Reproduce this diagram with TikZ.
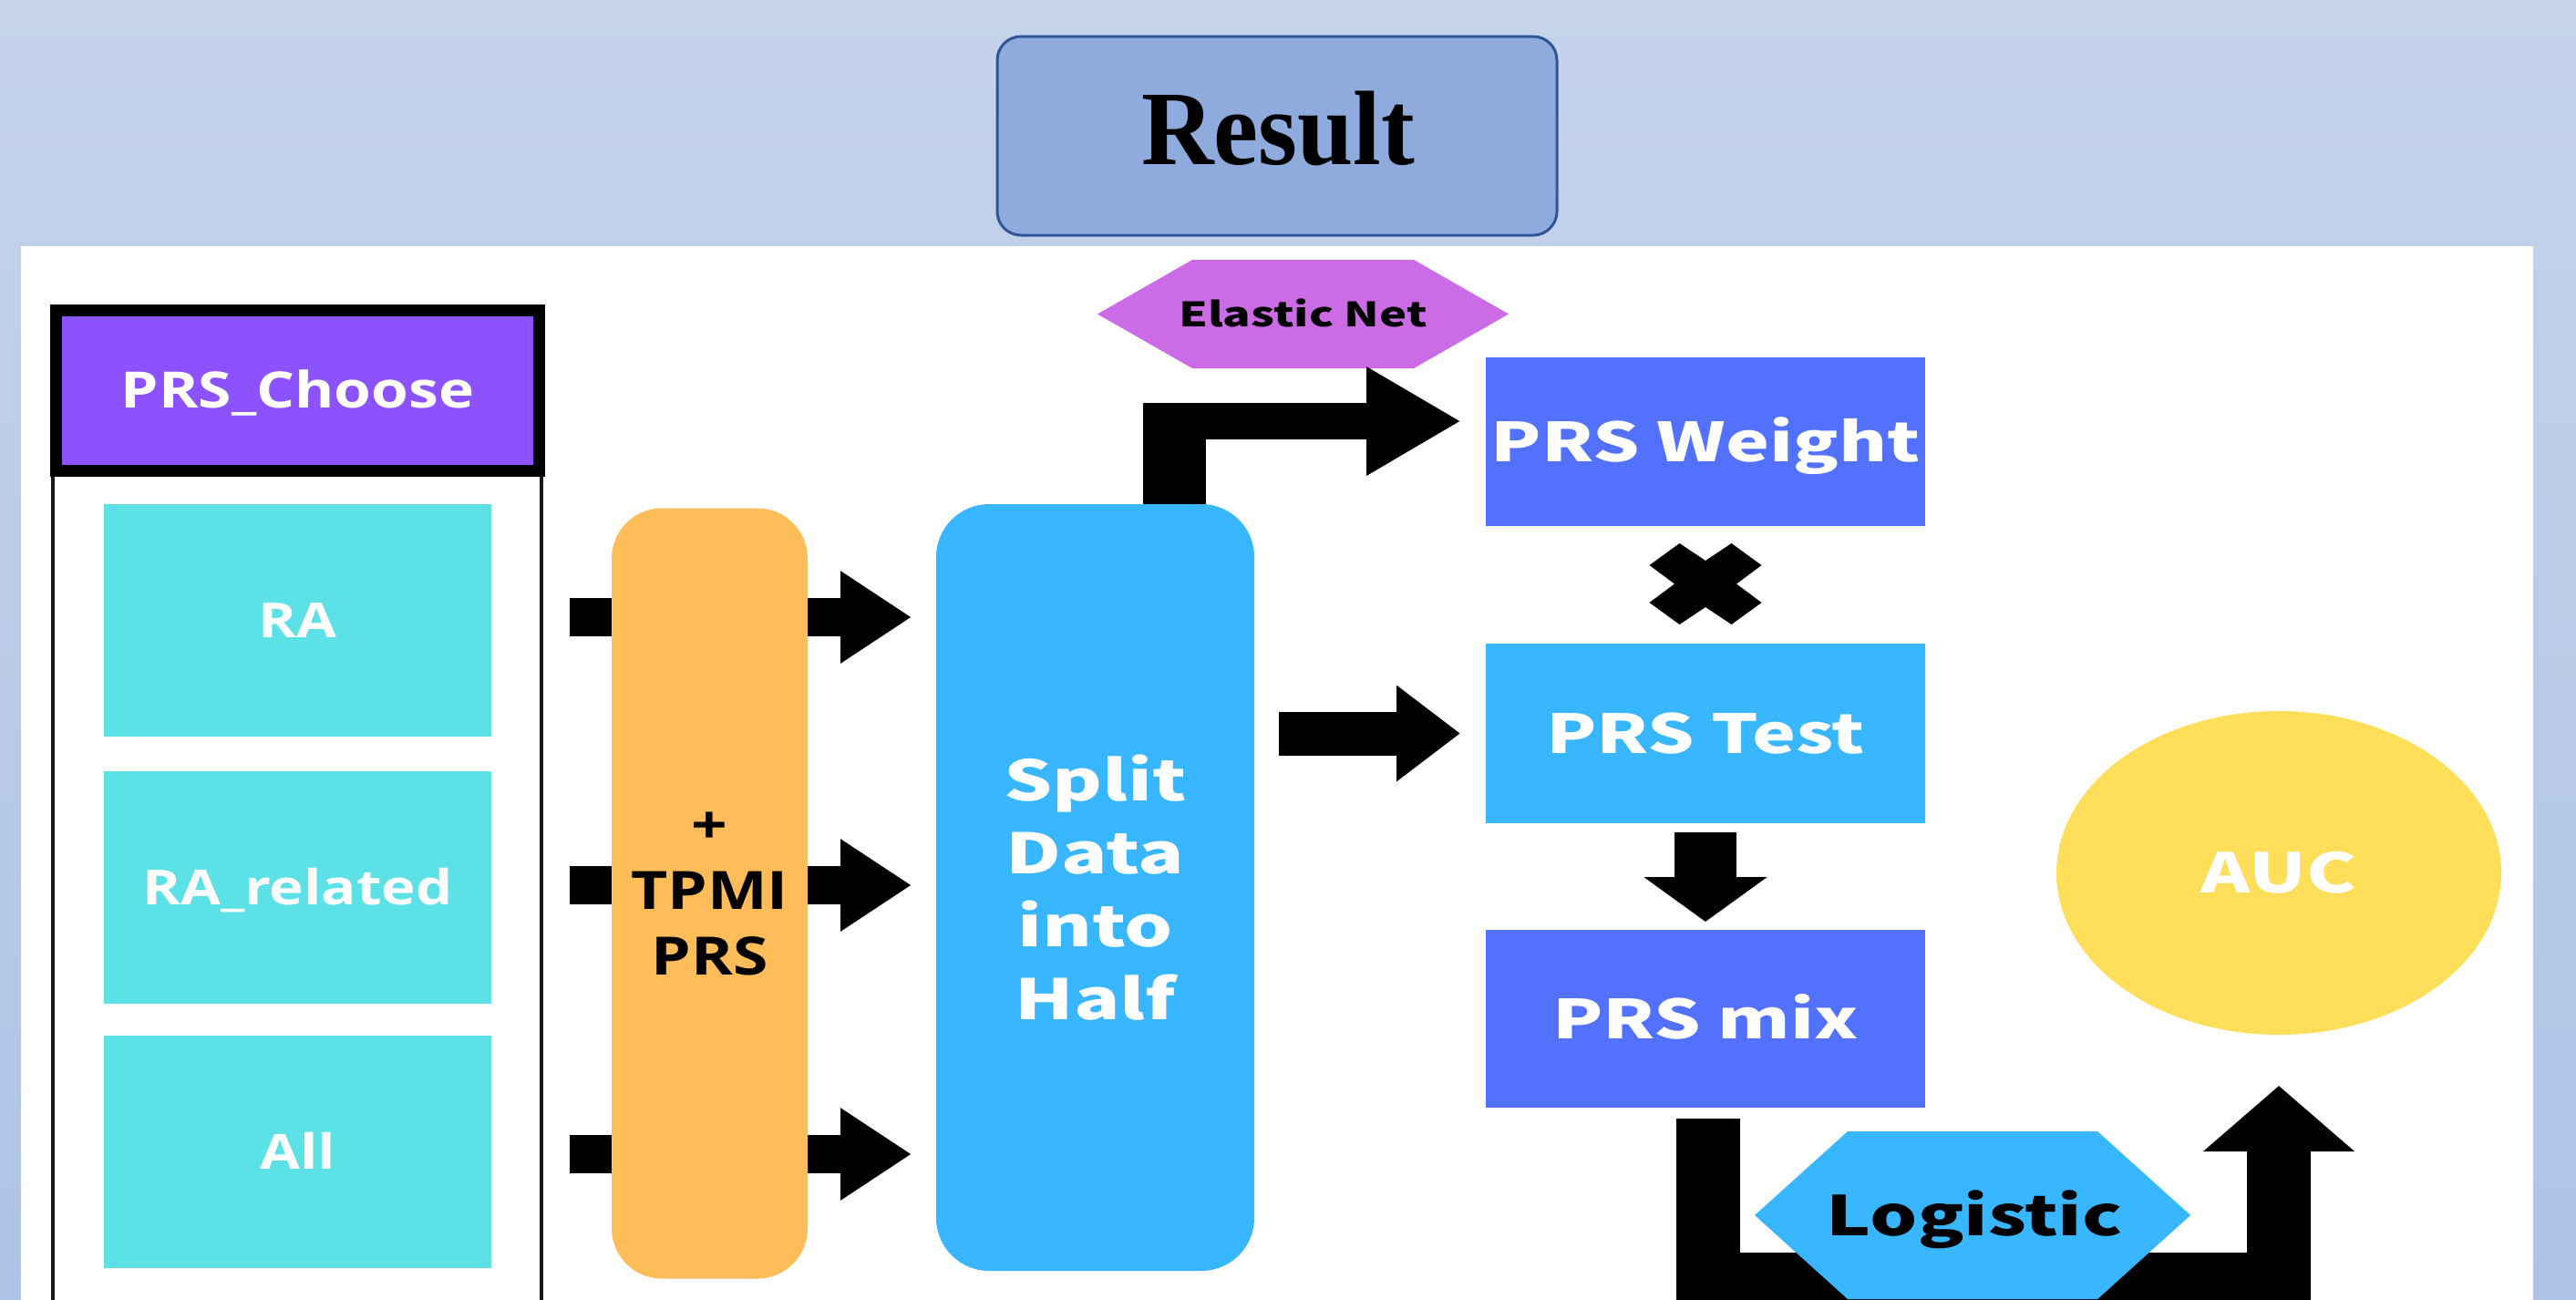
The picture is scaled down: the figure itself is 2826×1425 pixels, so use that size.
\documentclass[tikz,border=0pt]{standalone}
\usepackage{fontspec}
\usetikzlibrary{arrows.meta,calc,shapes.geometric}
\newfontfamily\clearfont[FakeStretch=1.2]{Open Sans}
\newfontfamily\hanfont[FakeStretch=1.37]{Noto Sans CJK SC}
\newfontfamily\titlefont[FakeStretch=0.95]{Liberation Serif}
\newcommand\ClearAt[2]{\clearfont\bfseries\fontsize{#1}{#2}\selectfont}
\newcommand\HanAt[2]{\hanfont\bfseries\fontsize{#1}{#2}\selectfont}
\definecolor{bgtop}{HTML}{C5D4EB}
\definecolor{bgbot}{HTML}{AFC3E6}
\definecolor{resfill}{HTML}{8FAADC}
\definecolor{resborder}{HTML}{2F5597}
\definecolor{purplehead}{HTML}{8C52FF}
\definecolor{cyanbox}{HTML}{5CE1E6}
\definecolor{orangepill}{HTML}{FFBD59}
\definecolor{skyblue}{HTML}{38B6FF}
\definecolor{royal}{HTML}{5271FF}
\definecolor{violet}{HTML}{CB6CE6}
\definecolor{sun}{HTML}{FFDE59}
\begin{document}
\begin{tikzpicture}[x=1pt,y=-1pt,
  flat/.style={inner sep=0pt, outer sep=0pt, align=center},
  whitetext/.style={text=white},
  blockline/.style={draw=black, line cap=butt},
]
\useasboundingbox (0,0) rectangle (2826,1425);
\clip (0,0) rectangle (2826,1425);
\shade[top color=bgtop, bottom color=bgbot] (0,0) rectangle (2826,1425);
\fill[white] (23,270) rectangle (2779,1440);

% title
\node[flat, draw=resborder, line width=3pt, fill=resfill, rounded corners=26pt,
      minimum width=614pt, minimum height=218pt] (resbox) at (1401,149) {};
\node[flat, font=\titlefont\bfseries\fontsize{116}{130}\selectfont,
      text height=77pt, text depth=0pt] (restext) at (1402,141.5) {Result};

% PRS_Choose list
\node[flat, draw=black!90, line width=4pt, minimum width=536pt, minimum height=940pt,
      anchor=north] (chooselist) at (326,519) {};
\node[flat, draw=black, line width=13pt, fill=purplehead, whitetext,
      minimum width=530pt, minimum height=176pt,
      font=\ClearAt{55}{66}, text height=39pt, text depth=0pt] (choose) at (326.5,428) {PRS\_Choose};
\node[flat, fill=cyanbox, whitetext, minimum width=425pt, minimum height=255pt,
      font=\ClearAt{53}{64}, text height=38pt, text depth=0pt] (ra) at (326.5,680.5) {RA};
\node[flat, fill=cyanbox, whitetext, minimum width=425pt, minimum height=255pt,
      font=\ClearAt{53}{64}, text height=38pt, text depth=0pt] (rarel) at (326.5,973) {RA\_related};
\node[flat, fill=cyanbox, whitetext, minimum width=425pt, minimum height=255pt,
      font=\ClearAt{53}{64}, text height=38pt, text depth=0pt] (all) at (326.5,1263) {All};

% split pill (needed for arrow ends)
\node[flat, fill=skyblue, whitetext, rounded corners=58pt, minimum width=349pt, minimum height=841pt,
      font=\HanAt{61}{80}] (split) at (1201.5,973.5) {Split\\Data\\into\\Half};

% arrows through TPMI pill
\coordinate (a1) at (625,677);
\coordinate (a2) at (625,971);
\coordinate (a3) at (625,1266);
\foreach \c in {a1,a2,a3}
  \draw[blockline, line width=42pt, -{Triangle[length=78pt,width=96pt]}, shorten >=27pt]
    (\c) -- (split.west |- \c);

\node[flat, fill=orangepill, rounded corners=55pt, minimum width=215pt, minimum height=845pt,
      font=\ClearAt{58}{72}] (tpmi) at (778.5,980) {+\\TPMI\\PRS};

% right column
\node[flat, fill=royal, whitetext, minimum width=482pt, minimum height=185pt,
      font=\HanAt{59}{70}, text height=43pt, text depth=0pt] (weight) at (1871,484.5) {PRS Weight};
\node[flat, fill=skyblue, whitetext, minimum width=482pt, minimum height=197pt,
      font=\HanAt{59}{70}, text height=43pt, text depth=0pt] (test) at (1871,804.5) {PRS Test};
\node[flat, fill=royal, whitetext, minimum width=482pt, minimum height=195pt,
      font=\HanAt{59}{70}, text height=43pt, text depth=0pt] (mix) at (1871,1117.5) {PRS mix};
\node[flat, ellipse, fill=sun, whitetext, minimum width=488pt, minimum height=355pt,
      font=\HanAt{60}{70}, text height=44pt, text depth=0pt] (auc) at (2500,957.5) {AUC};

% Elastic Net hexagon
\coordinate (enc) at (1429.5,344.5);
\fill[violet] ($(enc)+(-225.5,0)$) -- ++(104,-59.5) -- ++(243,0) -- ++(104,59.5)
  -- ++(-104,59.5) -- ++(-243,0) -- cycle;
\node[flat, font=\HanAt{37}{44}, text height=27pt, text depth=0pt] (elastic) at (enc) {Elastic Net};

% split -> weight (bent)
\fill[black] ($(split.north)+(52.5,-111)$) rectangle ($(split.north)+(121.5,0)$);
\draw[blockline, line width=40pt, line join=miter, -{Triangle[length=104pt,width=112pt]}, shorten >=27pt]
  ($(split.north)+(87,0)$) |- ($(weight.west)+(0,-22.5)$);

% split -> test
\draw[blockline, line width=48pt, -{Triangle[length=70pt,width=101pt]}, shorten >=28pt]
  ($(split.east |- test.west)+(27,0)$) -- (test.west);

% multiply mark
\coordinate (xm) at ($(weight.south)!0.5!(test.north)+(0,-1)$);
\fill[black] ($(xm)+(-61.5,-20.5)$) -- ($(xm)+(-28.5,-44.5)$) -- ($(xm)+(0,-25.5)$)
  -- ($(xm)+(28.5,-44.5)$) -- ($(xm)+(61.5,-20.5)$) -- ($(xm)+(34,0)$)
  -- ($(xm)+(61.5,20.5)$) -- ($(xm)+(28.5,44.5)$) -- ($(xm)+(0,25.5)$)
  -- ($(xm)+(-28.5,44.5)$) -- ($(xm)+(-61.5,20.5)$) -- ($(xm)+(-34,0)$) -- cycle;

% test -> mix
\draw[blockline, line width=68pt, -{Triangle[length=49pt,width=133pt]}, shorten >=9pt]
  ($(test.south)+(0,10)$) -- (mix.north);

% mix -> auc (U shaped)
\draw[blockline, line width=70pt, line join=miter, -{Triangle[length=72pt,width=162pt]}, shorten >=56pt]
  ($(mix.south)+(3,12)$) |- ($(auc.south)+(0,274)$) -- (auc.south);

% Logistic hexagon
\coordinate (lgc) at (2164,1333);
\fill[skyblue] ($(lgc)+(-239,0)$) -- ++(102,-92) -- ++(274,0) -- ++(102,92)
  -- ++(-102,92) -- ++(-274,0) -- cycle;
\node[flat, font=\HanAt{60}{70}, text height=44pt, text depth=0pt] (logistic) at (2166,1333) {Logistic};
\end{tikzpicture}
\end{document}
